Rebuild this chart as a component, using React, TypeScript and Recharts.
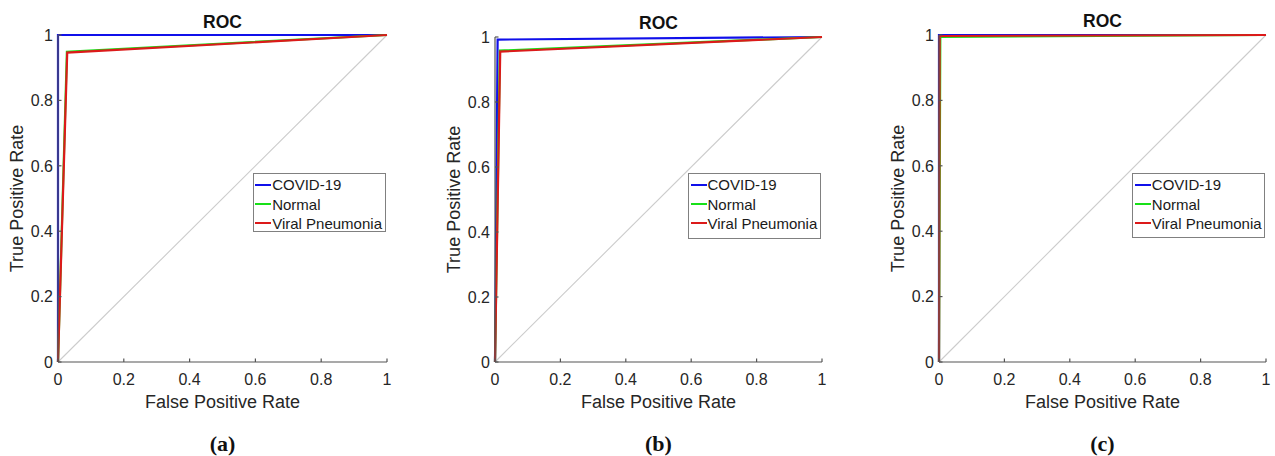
import React from "react";
import { LineChart, Line, XAxis, YAxis, Legend, ReferenceLine } from "recharts";

type Pt = { x: number; y: number };

const seriesNames = ["COVID-19", "Normal", "Viral Pneumonia"];
const seriesColors = ["#1010ea", "#18e018", "#dc1a1a"];
const rateTicks = [0, 0.2, 0.4, 0.6, 0.8, 1];
const chanceLine: Pt[] = [
  { x: 0, y: 0 },
  { x: 1, y: 1 },
];

// (a)
const covidA: Pt[] = [
  { x: 0, y: 0 },
  { x: 0, y: 1 },
  { x: 1, y: 1 },
];
const normalA: Pt[] = [
  { x: 0, y: 0 },
  { x: 0.027, y: 0.949 },
  { x: 1, y: 1 },
];
const viralA: Pt[] = [
  { x: 0, y: 0 },
  { x: 0.028, y: 0.946 },
  { x: 1, y: 1 },
];

// (b)
const covidB: Pt[] = [
  { x: 0, y: 0 },
  { x: 0.008, y: 0.992 },
  { x: 1, y: 1 },
];
const normalB: Pt[] = [
  { x: 0, y: 0 },
  { x: 0.015, y: 0.958 },
  { x: 1, y: 1 },
];
const viralB: Pt[] = [
  { x: 0, y: 0 },
  { x: 0.016, y: 0.955 },
  { x: 1, y: 1 },
];

// (c)
const covidC: Pt[] = [
  { x: 0, y: 0 },
  { x: 0, y: 1 },
  { x: 1, y: 1 },
];
const normalC: Pt[] = [
  { x: 0, y: 0 },
  { x: 0.004, y: 0.994 },
  { x: 1, y: 1 },
];
const viralC: Pt[] = [
  { x: 0, y: 0 },
  { x: 0.002, y: 0.997 },
  { x: 1, y: 1 },
];

const AXIS = "#555555";
const TEXT = "#262626";
const Y_AXIS_W = 58;
const FULL_H = 456;

const fmt = (v: number) => String(v);

function XTick(props: any) {
  const { x, y, payload } = props;
  return (
    <g>
      <line x1={x} x2={x} y1={y} y2={y - 3.5} stroke={AXIS} strokeWidth={1.2} />
      <text x={x} y={y + 23} textAnchor="middle" fontSize={16} fill={TEXT}>
        {fmt(payload.value)}
      </text>
    </g>
  );
}

function YTick(props: any) {
  const { x, y, payload } = props;
  return (
    <g>
      <line x1={x} x2={x + 3.5} y1={y} y2={y} stroke={AXIS} strokeWidth={1.2} />
      <text x={x - 5} y={y + 5.7} textAnchor="end" fontSize={16} fill={TEXT}>
        {fmt(payload.value)}
      </text>
    </g>
  );
}

function legendRenderer(height: number) {
  return (props: any) => {
    const items = props.payload || [];
    return (
      <div
        style={{
          width: 133,
          height,
          boxSizing: "border-box",
          border: "1px solid #808080",
          background: "#fff",
          paddingTop: 1,
          paddingLeft: 1.5,
          fontSize: 15,
          color: "#1a1a1a",
        }}
      >
        {items.map((it: any) => (
          <div key={it.value} style={{ display: "flex", alignItems: "center", height: 19.4 }}>
            <span style={{ display: "inline-block", width: 16, height: 2, background: it.color, marginRight: 1 }} />
            <span style={{ whiteSpace: "nowrap" }}>{it.value}</span>
          </div>
        ))}
      </div>
    );
  };
}

type PanelProps = {
  caption: string;
  curves: Pt[][];
  left: number;
  top: number;
  w: number;
  h: number;
  legendLeft: number;
  legendH: number;
  titleTop: number;
};

function RocPanel(p: PanelProps) {
  const chartW = Y_AXIS_W + p.w + 12;
  const xAxisH = FULL_H - p.top - p.h;
  const cx = Y_AXIS_W + p.w / 2;
  return (
    <div style={{ position: "absolute", left: p.left - Y_AXIS_W, top: 0, width: chartW, height: FULL_H }}>
      <LineChart width={chartW} height={FULL_H} margin={{ top: p.top, right: 12, left: 0, bottom: 0 }}>
        <XAxis
          type="number"
          dataKey="x"
          domain={[0, 1]}
          ticks={rateTicks}
          interval={0}
          tickSize={0}
          tickMargin={0}
          tickLine={false}
          height={xAxisH}
          axisLine={{ stroke: AXIS, strokeWidth: 1.2 }}
          tick={<XTick />}
          label={{
            content: () => (
              <text x={cx} y={p.top + p.h + 40} textAnchor="middle" dominantBaseline="central" fontSize={18} fill={TEXT}>
                False Positive Rate
              </text>
            ),
          }}
        />
        <YAxis
          type="number"
          domain={[0, 1]}
          ticks={rateTicks}
          interval={0}
          tickSize={0}
          tickMargin={0}
          tickLine={false}
          width={Y_AXIS_W}
          axisLine={{ stroke: AXIS, strokeWidth: 1.2 }}
          tick={<YTick />}
          label={{
            content: () => (
              <text
                x={Y_AXIS_W - 41}
                y={p.top + p.h / 2}
                textAnchor="middle"
                dominantBaseline="central"
                fontSize={18}
                fill={TEXT}
                transform={`rotate(-90 ${Y_AXIS_W - 41} ${p.top + p.h / 2})`}
              >
                True Positive Rate
              </text>
            ),
          }}
        />
        <ReferenceLine
          segment={chanceLine.map((d) => ({ x: d.x, y: d.y }))}
          stroke="#cccccc"
          strokeWidth={1.1}
        />
        {p.curves.map((c, i) => (
          <Line
            key={seriesNames[i]}
            data={c}
            dataKey="y"
            name={seriesNames[i]}
            type="linear"
            stroke={seriesColors[i]}
            strokeWidth={2.2}
            dot={false}
            activeDot={false}
            isAnimationActive={false}
          />
        ))}
        <Legend
          layout="vertical"
          align="center"
          verticalAlign="middle"
          wrapperStyle={{ left: p.legendLeft, top: 173, width: 133 }}
          content={legendRenderer(p.legendH)}
        />
      </LineChart>
      <div
        style={{
          position: "absolute",
          left: Y_AXIS_W,
          width: p.w,
          top: p.titleTop,
          lineHeight: "20px",
          textAlign: "center",
          fontWeight: "bold",
          fontSize: 17.5,
          color: "#111",
        }}
      >
        ROC
      </div>
      <div
        style={{
          position: "absolute",
          left: Y_AXIS_W,
          width: p.w,
          top: 431,
          lineHeight: "26px",
          textAlign: "center",
          fontWeight: "bold",
          fontSize: 22,
          fontFamily: "'Liberation Serif', 'Times New Roman', serif",
          color: "#111",
        }}
      >
        {p.caption}
      </div>
    </div>
  );
}

export default function App() {
  return (
    <div
      style={{
        position: "absolute",
        left: 0,
        top: 0,
        width: 1275,
        height: FULL_H,
        background: "#fff",
        overflow: "hidden",
        fontFamily: "'Liberation Sans', Arial, sans-serif",
      }}
    >
      <RocPanel caption="(a)" curves={[covidA, normalA, viralA]} left={58} top={35} w={329} h={327} legendLeft={252.7} legendH={59} titleTop={12} />
      <RocPanel caption="(b)" curves={[covidB, normalB, viralB]} left={495} top={37} w={327} h={325} legendLeft={251} legendH={66} titleTop={13} />
      <RocPanel caption="(c)" curves={[covidC, normalC, viralC]} left={939} top={35} w={327} h={327} legendLeft={251.3} legendH={65} titleTop={10.5} />
    </div>
  );
}
